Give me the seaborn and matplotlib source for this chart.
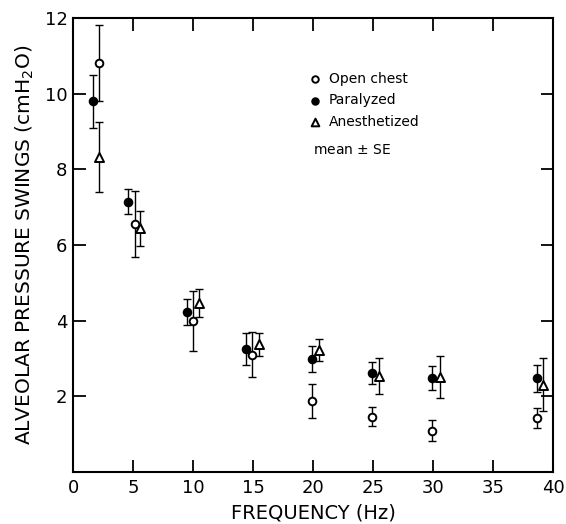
import matplotlib
matplotlib.use("Agg")
import matplotlib.pyplot as plt
import seaborn as sns
import pandas as pd

# Frequencies (Hz) as plotted (slightly offset per group in the original)
open_x = [2.2, 5.2, 10.0, 14.9, 19.9, 24.9, 29.9, 38.7]
open_y = [10.82, 6.56, 3.99, 3.10, 1.87, 1.45, 1.08, 1.42]
open_se = [1.00, 0.87, 0.80, 0.60, 0.45, 0.25, 0.28, 0.27]

para_x = [1.7, 4.6, 9.5, 14.4, 19.9, 24.9, 29.9, 38.7]
para_y = [9.80, 7.15, 4.22, 3.24, 2.98, 2.61, 2.47, 2.47]
para_se = [0.70, 0.32, 0.35, 0.43, 0.34, 0.30, 0.32, 0.36]

anes_x = [2.2, 5.6, 10.5, 15.5, 20.5, 25.5, 30.6, 39.2]
anes_y = [8.33, 6.44, 4.46, 3.37, 3.22, 2.53, 2.51, 2.30]
anes_se = [0.92, 0.47, 0.37, 0.30, 0.30, 0.48, 0.55, 0.70]

x_ticks = [0, 5, 10, 15, 20, 25, 30, 35, 40]
y_ticks = [2, 4, 6, 8, 10, 12]

sns.set_style("ticks")
plt.rcParams["font.family"] = ["DejaVu Sans"]
for k in ["text.color", "axes.labelcolor", "xtick.color", "ytick.color",
          "axes.edgecolor"]:
    plt.rcParams[k] = "black"

fig = plt.figure(figsize=(5.66, 5.24), dpi=100)
ax = fig.add_axes([0.129, 0.100, 0.848, 0.865])

series = [
    ("Open chest", open_x, open_y, open_se, "o", "white", 5.5),
    ("Paralyzed", para_x, para_y, para_se, "o", "black", 5.5),
    ("Anesthetized", anes_x, anes_y, anes_se, "^", "white", 6.5),
]

for name, xs, ys, se, m, fc, ms in series:
    ax.errorbar(xs, ys, yerr=se, fmt="none", ecolor="black", elinewidth=1.0,
                capsize=3, capthick=1.0, zorder=1)

for name, xs, ys, se, m, fc, ms in series:
    df = pd.DataFrame({"x": xs, "y": ys})
    sns.scatterplot(data=df, x="x", y="y", marker=m, s=ms ** 2,
                    facecolor=fc, edgecolor="black", linewidth=1.4,
                    ax=ax, label=name, zorder=3)

ax.set_xlim(0, 40)
ax.set_ylim(0, 12)
ax.set_xticks(x_ticks)
ax.set_yticks(y_ticks)
ax.tick_params(direction="in", length=9, width=1.3, top=True, right=True,
               labelsize=13)
ax.tick_params(axis="x", pad=5)
ax.tick_params(axis="y", pad=4)
for s in ax.spines.values():
    s.set_linewidth(1.5)

ax.set_xlabel("FREQUENCY (Hz)", fontsize=14, labelpad=5)
ax.set_ylabel("ALVEOLAR PRESSURE SWINGS (cmH$_2$O)", fontsize=14.5, labelpad=6)

leg = ax.legend(loc="upper left", bbox_to_anchor=(0.49, 0.882), frameon=False,
                fontsize=10, handlelength=1.0, handletextpad=0.5,
                labelspacing=0.55, borderpad=0, borderaxespad=0,
                markerscale=0.85)
ax.text(0.5, 0.71, "mean $\\pm$ SE", transform=ax.transAxes, fontsize=10,
        ha="left", va="center")

fig.savefig("out.png", dpi=100)
